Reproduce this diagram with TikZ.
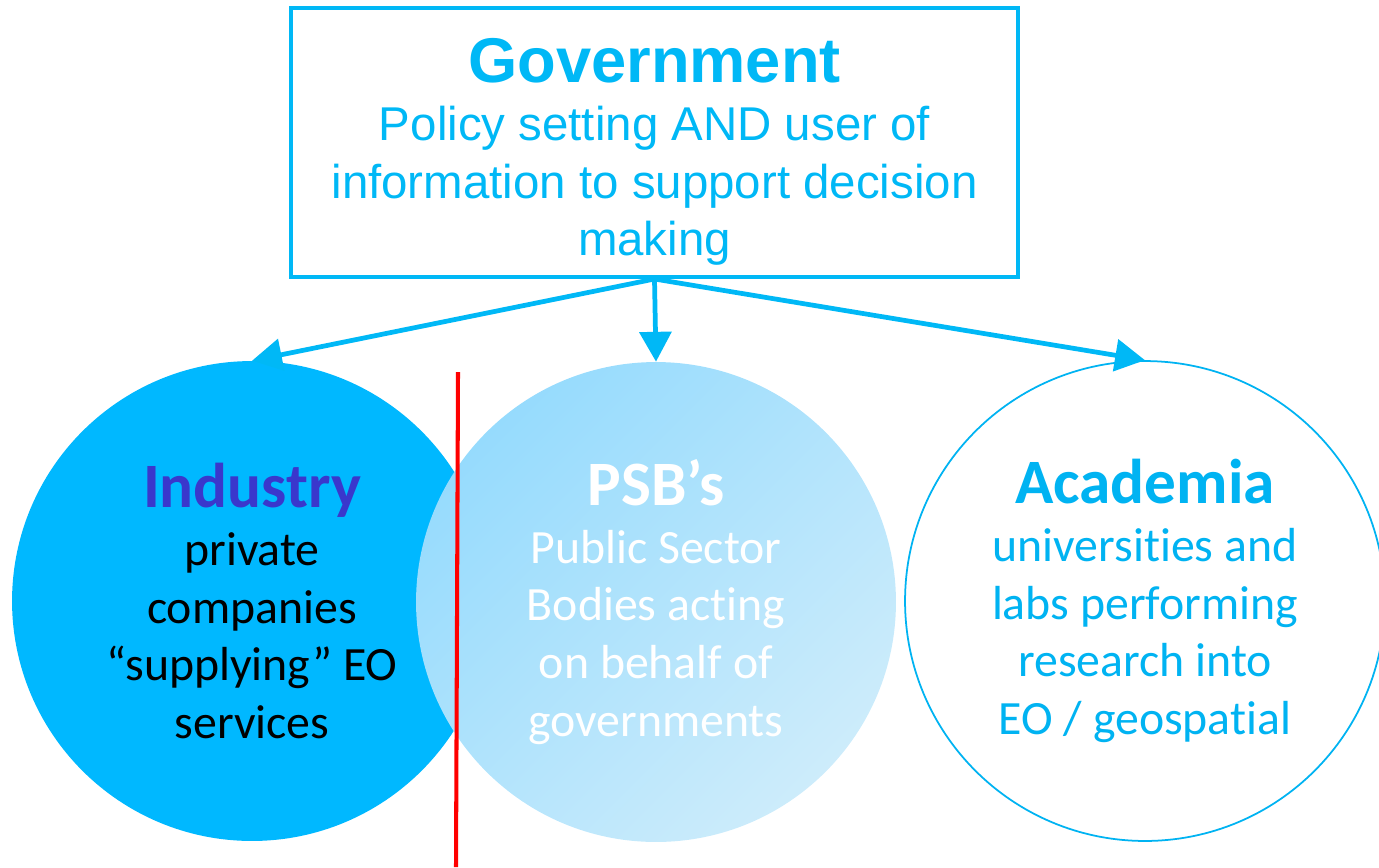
\documentclass[tikz,border=0pt]{standalone}
\usepackage{fontspec}
\setmainfont{Carlito}[Ligatures=CommonOff]
\newfontfamily\govfont{Liberation Sans}
\usetikzlibrary{positioning,arrows.meta}
\definecolor{govblue}{HTML}{00B8F6}
\definecolor{indblue}{HTML}{00B8FF}
\definecolor{indtext}{HTML}{3A37CC}
\definecolor{psbtop}{HTML}{96DBFD}
\definecolor{psbbot}{HTML}{CDECFB}
\definecolor{acblue}{HTML}{00B3F2}

\begin{document}
\begin{tikzpicture}[x=0.02cm,y=-0.02cm,
	arr/.style={govblue, line width=2.7pt, -{Triangle[length=17pt,width=18pt]}},
	party/.style={circle, minimum size=9.6cm, inner sep=0pt, align=center,
		font=\fontsize{27.2}{32.8}\selectfont},
	title/.style={font=\fontsize{36}{40}\selectfont\bfseries}]
	\useasboundingbox (0,0) rectangle (1379,867);
	
	\node[draw=govblue, line width=2.3pt, minimum width=14.54cm, minimum height=5.38cm,
		align=center, text=govblue, font=\govfont\fontsize{27}{32.8}\selectfont] (gov) at (654.5,142.5)
		{\rule{0pt}{36pt}{\fontsize{36}{40}\selectfont\bfseries Government}\\
		Policy setting AND user of\\ information to support decision\\ making};
	
	\node[party, fill=indblue] (ind) at (252,601)
		{{\fontsize{36}{40}\selectfont\bfseries\color{indtext}Industry}\\
		private\\ companies\\ “supplying” EO\\ services};
	\node[party, top color=psbtop, bottom color=psbbot, shading angle=45, text=white] (psb) at (656,602)
		{{\fontsize{36}{40}\selectfont\bfseries PSB’s}\\
		Public Sector\\ Bodies acting\\ on behalf of\\ governments};
	\node[party, draw=acblue, line width=1pt, fill=white, text=acblue] (acad) at (1145,601)
		{{\fontsize{36}{40}\selectfont\bfseries Academia}\\
		universities and\\ labs performing\\ research into\\ EO / geospatial};
	
	% split line
	\draw[red, line width=2.3pt] (458,372) -- (456,867);
	
	\draw[arr] (gov.south) -- (ind.north);
	\draw[arr] (gov.south) -- (psb.north);
	\draw[arr] (gov.south) -- (acad.north);
\end{tikzpicture}
\end{document}
